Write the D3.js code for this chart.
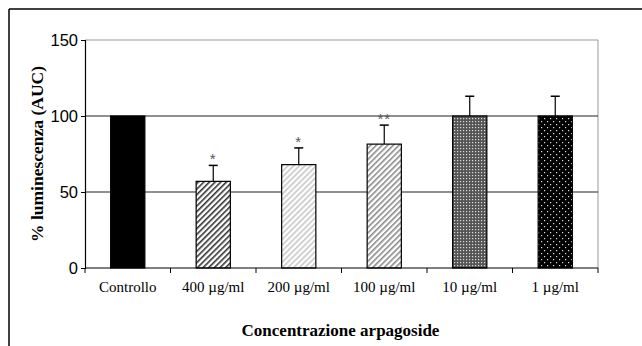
<!DOCTYPE html>
<html><head><meta charset="utf-8">
<script src="https://cdn.jsdelivr.net/npm/d3@7"></script>
<style>body{margin:0;background:#fff}</style>
</head><body>
<script>
const categories = ["Controllo","400 µg/ml","200 µg/ml","100 µg/ml","10 µg/ml","1 µg/ml"];
const values = [100, 57, 68, 81.5, 100, 100];
const errors = [0, 10.5, 11, 12.5, 13, 13];
const significance = ["", "*", "*", "**", "", ""];
const yTicks = [0, 50, 100, 150];
const fills = ["solid","stripeDark","stripeLight","stripeMid","gridDots","blackDots"];

(function(){
const W = 642, H = 346;
const svg = d3.select("body").append("svg").attr("width", W).attr("height", H);
const defs = svg.append("defs");

function stripe(id, color, bg) {
  const p = defs.append("pattern").attr("id", id).attr("patternUnits","userSpaceOnUse")
    .attr("width", 4).attr("height", 4).attr("patternTransform","rotate(45)");
  p.append("rect").attr("width",4).attr("height",4).attr("fill",bg);
  p.append("rect").attr("width",1.6).attr("height",4).attr("fill",color);
}
stripe("stripeDark", "#333", "#fff");
stripe("stripeLight", "#c8c8c8", "#fff");
stripe("stripeMid", "#8a8a8a", "#fff");
{
  const p = defs.append("pattern").attr("id","gridDots").attr("patternUnits","userSpaceOnUse").attr("width",3).attr("height",3);
  p.append("rect").attr("width",3).attr("height",3).attr("fill","#555");
  p.append("rect").attr("x",1).attr("y",1).attr("width",1.2).attr("height",1.2).attr("fill","#ddd");
}
{
  const p = defs.append("pattern").attr("id","blackDots").attr("patternUnits","userSpaceOnUse").attr("width",6).attr("height",6);
  p.append("rect").attr("width",6).attr("height",6).attr("fill","#000");
  p.append("rect").attr("x",1).attr("y",1).attr("width",1.2).attr("height",1.2).attr("fill","#ddd");
  p.append("rect").attr("x",4).attr("y",4).attr("width",1.2).attr("height",1.2).attr("fill","#ddd");
}

svg.append("line").attr("x1",9).attr("x2",W).attr("y1",9).attr("y2",9).attr("stroke","#000").attr("stroke-width",1.5);
svg.append("line").attr("x1",9).attr("x2",9).attr("y1",9).attr("y2",H).attr("stroke","#000").attr("stroke-width",1.5);

const pl = 85, pr = 598, pt = 40, pb = 268;
const x = d3.scaleBand().domain(categories).range([pl, pr]).paddingInner(0.6).paddingOuter(0.3);
const xb = d3.scaleBand().domain(categories).range([pl, pr]);
const y = d3.scaleLinear().domain([0,150]).range([pb, pt]);

svg.append("line").attr("x1",pr).attr("x2",pr).attr("y1",pt).attr("y2",pb).attr("stroke","#999").attr("stroke-width",1);
svg.append("line").attr("x1",pl).attr("x2",pr).attr("y1",y(150)).attr("y2",y(150)).attr("stroke","#999").attr("stroke-width",1);
svg.selectAll(".grid").data([50,100]).enter().append("line")
  .attr("x1",pl).attr("x2",pr).attr("y1",d=>y(d)).attr("y2",d=>y(d)).attr("stroke","#222").attr("stroke-width",1.2);

const eb = svg.selectAll(".eb").data(categories.map((c,i)=>({c,v:values[i],e:errors[i]})).filter(d=>d.e>0)).enter().append("g");
eb.append("line").attr("x1",d=>x(d.c)+x.bandwidth()/2).attr("x2",d=>x(d.c)+x.bandwidth()/2)
  .attr("y1",d=>y(d.v)).attr("y2",d=>y(d.v+d.e)).attr("stroke","#000").attr("stroke-width",1.2);
eb.append("line").attr("x1",d=>x(d.c)+x.bandwidth()/2-4.5).attr("x2",d=>x(d.c)+x.bandwidth()/2+4.5)
  .attr("y1",d=>y(d.v+d.e)).attr("y2",d=>y(d.v+d.e)).attr("stroke","#000").attr("stroke-width",1.5);

svg.selectAll(".bar").data(categories).enter().append("rect")
  .attr("x",d=>x(d)).attr("width",x.bandwidth())
  .attr("y",(d,i)=>y(values[i])).attr("height",(d,i)=>y(0)-y(values[i]))
  .attr("fill",(d,i)=>fills[i]==="solid"?"#000":`url(#${fills[i]})`)
  .attr("stroke","#000").attr("stroke-width",1.2);

svg.selectAll(".sig").data(categories).enter().append("text")
  .attr("x",d=>x(d)+x.bandwidth()/2)
  .attr("y",(d,i)=>y(values[i]+errors[i])-12.5)
  .attr("dy","0.75em")
  .attr("text-anchor","middle").attr("font-family","Liberation Sans, Arial").attr("font-size",15)
  .attr("fill","#555").attr("letter-spacing",1)
  .text((d,i)=>significance[i]);

const yAxis = d3.axisLeft(y).tickValues(yTicks).tickSize(4).tickPadding(3);
const gy = svg.append("g").attr("transform",`translate(${pl},0)`).call(yAxis);
gy.select(".domain").attr("stroke","#000").attr("stroke-width",1.2);
gy.selectAll(".tick line").attr("stroke","#000");
gy.selectAll("text").attr("font-family","Liberation Sans, Arial").attr("font-size",16.5).attr("fill","#000");

const gx = svg.append("g").attr("transform",`translate(0,${pb})`);
gx.append("line").attr("x1",pl).attr("x2",pr).attr("stroke","#000").attr("stroke-width",1.2);
const bounds = [pl].concat(categories.map(c=>xb(c)+xb.bandwidth()));
gx.selectAll(".xt").data(bounds).enter().append("line")
  .attr("x1",d=>d).attr("x2",d=>d).attr("y1",0).attr("y2",5).attr("stroke","#000");
gx.selectAll(".xl").data(categories).enter().append("text")
  .attr("x",d=>xb(d)+xb.bandwidth()/2).attr("y",24).attr("text-anchor","middle")
  .attr("font-family","Liberation Serif, Times New Roman").attr("font-size",15).attr("fill","#000")
  .text(d=>d);

svg.append("text").attr("x",(pl+pr)/2 - 1).attr("y",336).attr("text-anchor","middle")
  .attr("font-family","Liberation Serif, Times New Roman").attr("font-size",17).attr("font-weight","bold")
  .text("Concentrazione arpagoside");
svg.append("text").attr("transform",`translate(43,154) rotate(-90)`).attr("text-anchor","middle")
  .attr("font-family","Liberation Serif, Times New Roman").attr("font-size",17.5).attr("font-weight","bold")
  .text("% luminescenza (AUC)");
})();
</script>
</body></html>
